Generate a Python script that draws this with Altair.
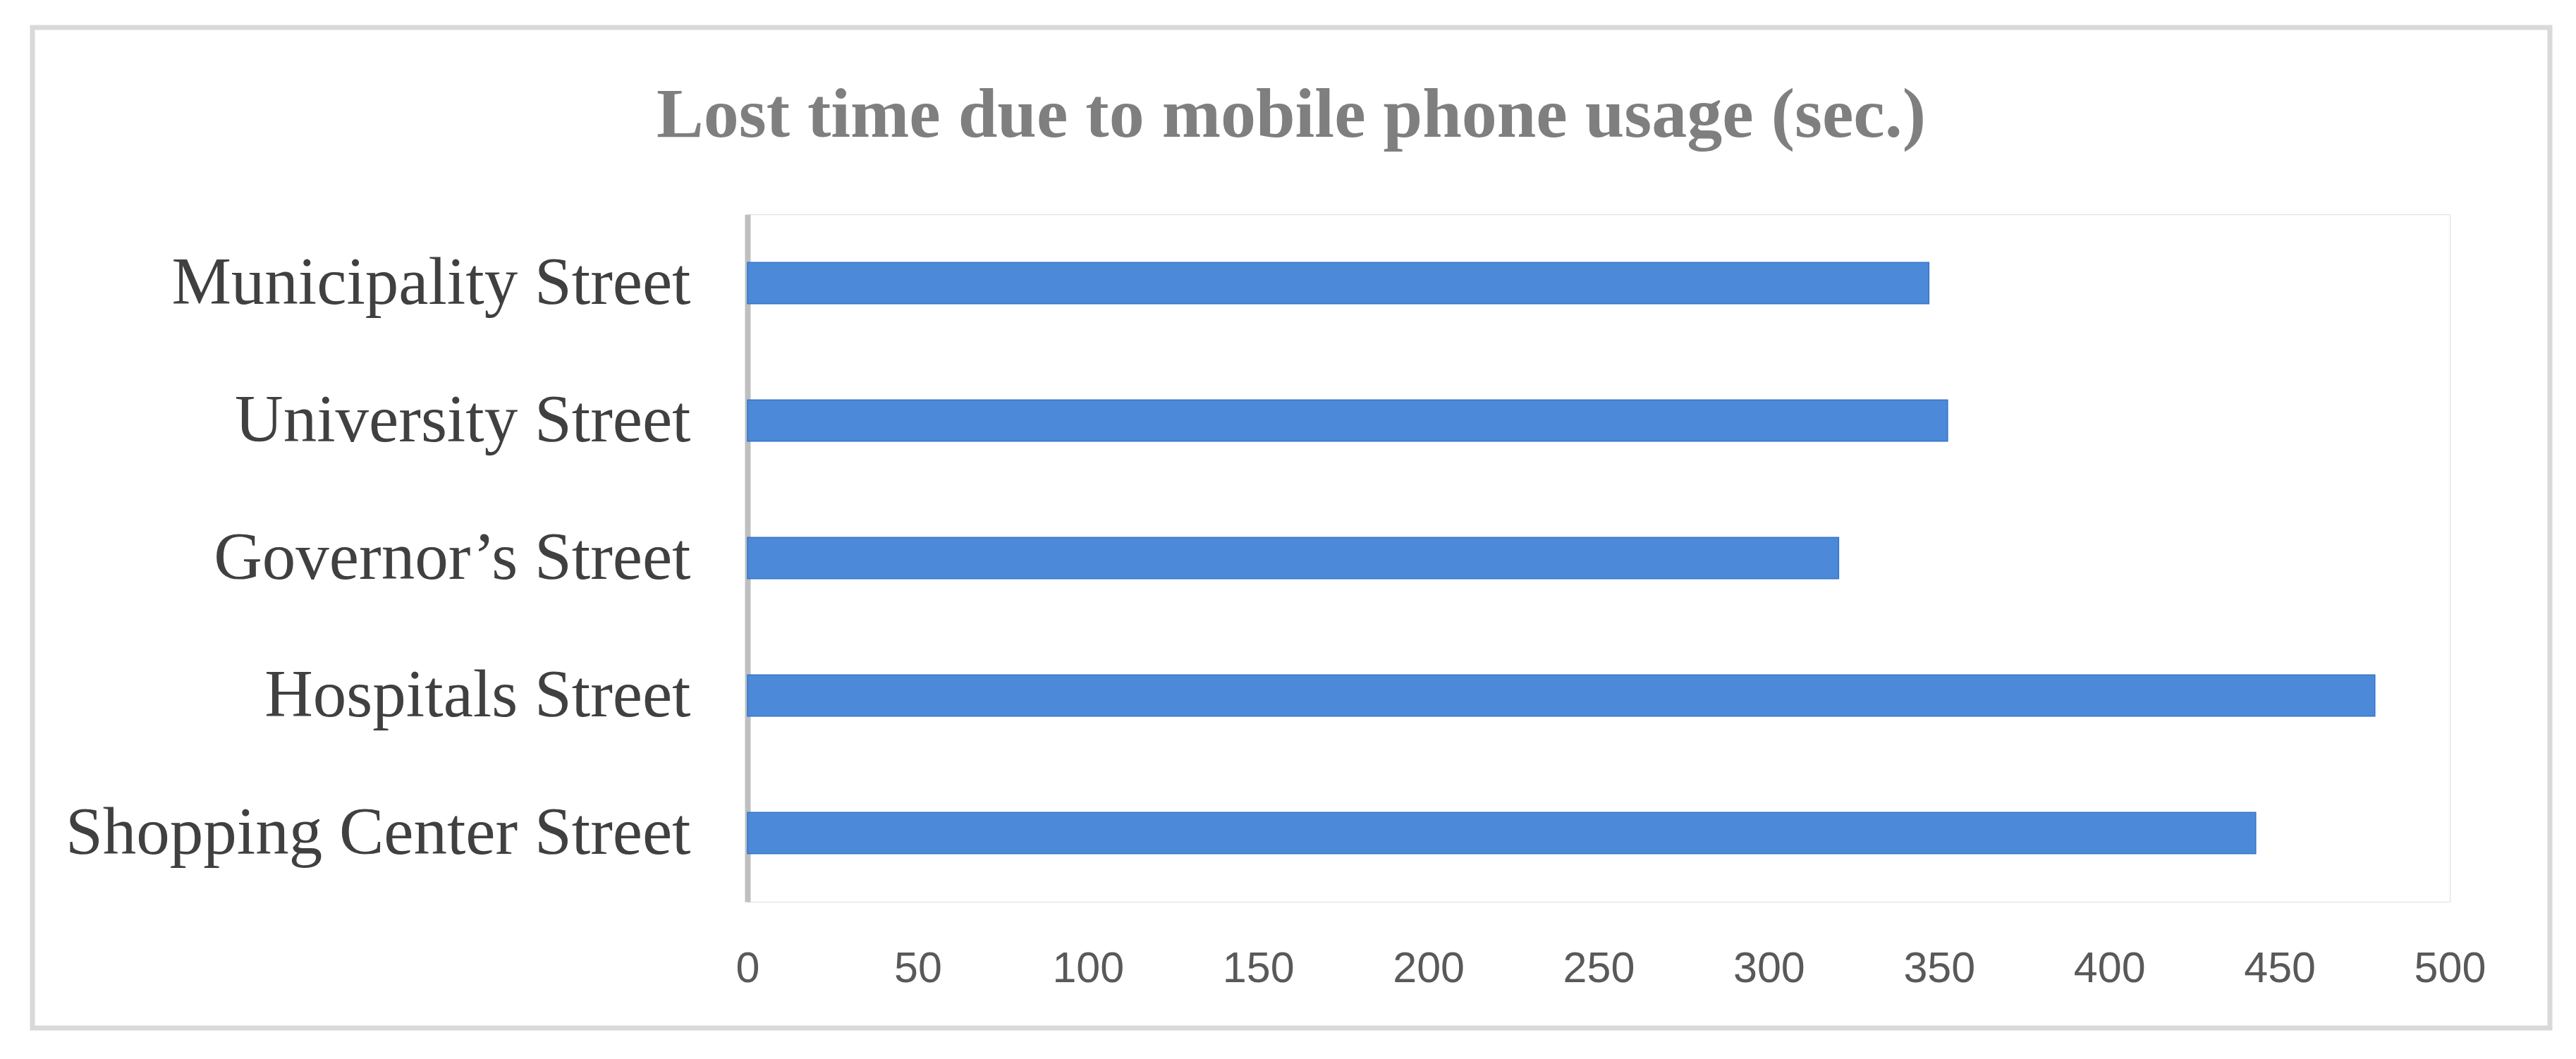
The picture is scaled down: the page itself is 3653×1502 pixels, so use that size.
import altair as alt
import pandas as pd

streets = [
    "Municipality Street",
    "University Street",
    "Governor\u2019s Street",
    "Hospitals Street",
    "Shopping Center Street",
]
lost_time = [347, 352.5, 320.5, 478, 443]
x_ticks = [0, 50, 100, 150, 200, 250, 300, 350, 400, 450, 500]

df = pd.DataFrame({"street": streets, "seconds": lost_time})

PLOT_W = 2414
PLOT_H = 975

bars = alt.Chart(df).mark_bar(color="#4c89d8", stroke="#3474c9", strokeWidth=1.5).encode(
    x=alt.X(
        "seconds:Q",
        scale=alt.Scale(domain=[0, 500], nice=False, zero=True),
        axis=alt.Axis(
            values=x_ticks,
            title=None,
            domain=False,
            ticks=False,
            tickSize=0,
            grid=False,
            labelFlush=False,
            labelFont="Liberation Sans",
            labelFontSize=61,
            labelColor="#595959",
            labelPadding=65,
        ),
    ),
    y=alt.Y(
        "street:N",
        sort=streets,
        scale=alt.Scale(paddingInner=0.7, paddingOuter=0.35),
        axis=alt.Axis(
            title=None,
            domain=True,
            domainColor="#bfbfbf",
            domainWidth=8,
            ticks=False,
            tickSize=0,
            grid=False,
            labelFont="Liberation Serif",
            labelFontSize=95,
            labelColor="#404040",
            labelPadding=81,
            labelLimit=2000,
        ),
    ),
)

frame = alt.Chart(pd.DataFrame({"k": [0]})).mark_rect(
    fillOpacity=0, stroke="#d9d9d9", strokeWidth=7
).encode(
    x=alt.value(-1014),
    x2=alt.value(2556),
    y=alt.value(-265),
    y2=alt.value(1154),
)

chart = (
    alt.layer(frame, bars)
    .properties(
        width=PLOT_W,
        height=PLOT_H,
        padding={"left": 34, "top": 27, "right": 5, "bottom": 5},
        title=alt.TitleParams(
            text="Lost time due to mobile phone usage (sec.)",
            font="Liberation Serif",
            fontSize=100,
            fontWeight="bold",
            color="#7f7f7f",
            anchor="middle",
            frame="bounds",
            offset=-179,
        ),
    )
    .configure_view(stroke="#ffffff", strokeWidth=0, strokeOpacity=0)
    .configure(background="white")
)

chart.save("out.html", embed_options={"renderer": "svg", "actions": False})
